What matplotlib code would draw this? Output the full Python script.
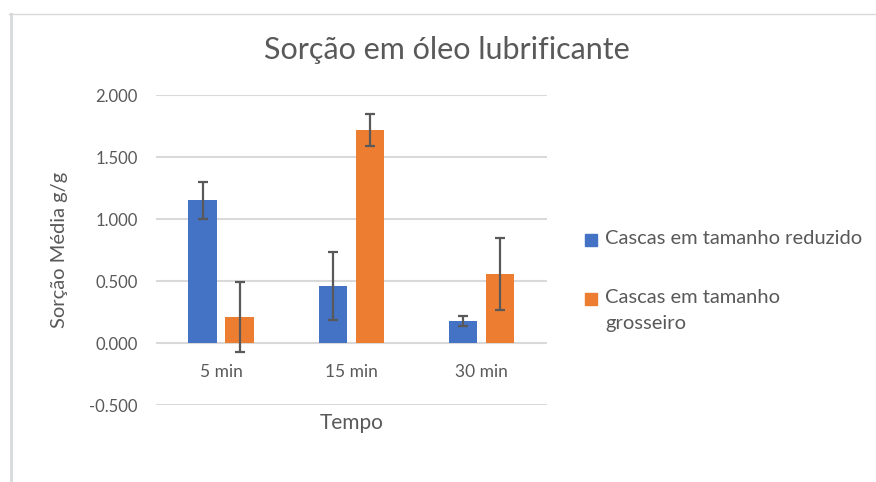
import numpy as np
import matplotlib
matplotlib.use("Agg")
import matplotlib.pyplot as plt
from matplotlib.lines import Line2D
from matplotlib.patches import Rectangle

# chart data
categories = ["5 min", "15 min", "30 min"]
series_names = ["Cascas em tamanho reduzido", "Cascas em tamanho\ngrosseiro"]
reduzido = [1.15, 0.46, 0.18]
reduzido_err = [0.15, 0.275, 0.04]
grosseiro = [0.21, 1.72, 0.555]
grosseiro_err = [0.28, 0.13, 0.29]
yticks = [-0.5, 0.0, 0.5, 1.0, 1.5, 2.0]

plt.rcParams["font.family"] = ["Lato", "DejaVu Sans"]
text_gray = "#595959"
blue = "#4472C4"
orange = "#ED7D31"
W, H = 876, 482

fig = plt.figure(figsize=(W / 100, H / 100), dpi=100)
ax = fig.add_axes([156 / W, 77 / H, 390.7 / W, 310 / H])

x = np.arange(len(categories))
width = 0.22
offset = 0.142
err_style = dict(ecolor=text_gray, elinewidth=1.6, capsize=3.4, capthick=1.6)

ax.bar(x - offset, reduzido, width, color=blue, yerr=reduzido_err,
       error_kw=err_style, zorder=3)
ax.bar(x + offset, grosseiro, width, color=orange, yerr=grosseiro_err,
       error_kw=err_style, zorder=3)

ax.set_xlim(-0.5, len(categories) - 0.5)
ax.set_ylim(-0.5, 2.0)
ax.set_yticks(yticks)
ax.set_yticklabels([f"{v:.3f}" for v in yticks])
ax.set_xticks(x)
ax.set_xticklabels(categories)
ax.grid(axis="y", color="#d9d9d9", linewidth=1.5, zorder=0)
ax.set_axisbelow(True)

for s in ax.spines.values():
    s.set_visible(False)
ax.spines["bottom"].set_position(("data", 0))
ax.tick_params(axis="both", length=0, colors=text_gray)
ax.tick_params(axis="x", pad=15, labelsize=12.5)
ax.tick_params(axis="y", pad=13, labelsize=12)

fig.text(447 / W, 1 - 50 / H, "Sorção em óleo lubrificante", ha="center",
         va="center", fontsize=22, color=text_gray)
fig.text(352 / W, 1 - 423 / H, "Tempo", ha="center", va="center",
         fontsize=15, color=text_gray)
fig.text(60 / W, 1 - 250 / H, "Sorção Média g/g", ha="center", va="center",
         rotation=90, fontsize=14.5, color=text_gray)

# legend, drawn by hand so the swatch sits on the first text line
legend_rows = [(240, 0), (299, 1)]
for (yc, i), col in zip(legend_rows, [blue, orange]):
    fig.add_artist(Rectangle((585 / W, 1 - (yc + 6) / H), 12 / W, 12 / H,
                             transform=fig.transFigure, color=col))
    fig.text(605 / W, 1 - (yc - 10) / H, series_names[i], ha="left", va="top",
             fontsize=14.5, color=text_gray, linespacing=1.62)

# chart frame (light grey, left and top edges visible)
fig.add_artist(Line2D([10.5 / W, 10.5 / W], [0, 1 - 14 / H],
                      transform=fig.transFigure, color="#d9dcdc", linewidth=2.2))
fig.add_artist(Line2D([9 / W, 1], [1 - 14 / H, 1 - 14 / H],
                      transform=fig.transFigure, color="#d9d9d9", linewidth=1))

fig.savefig("out.png", dpi=100)
